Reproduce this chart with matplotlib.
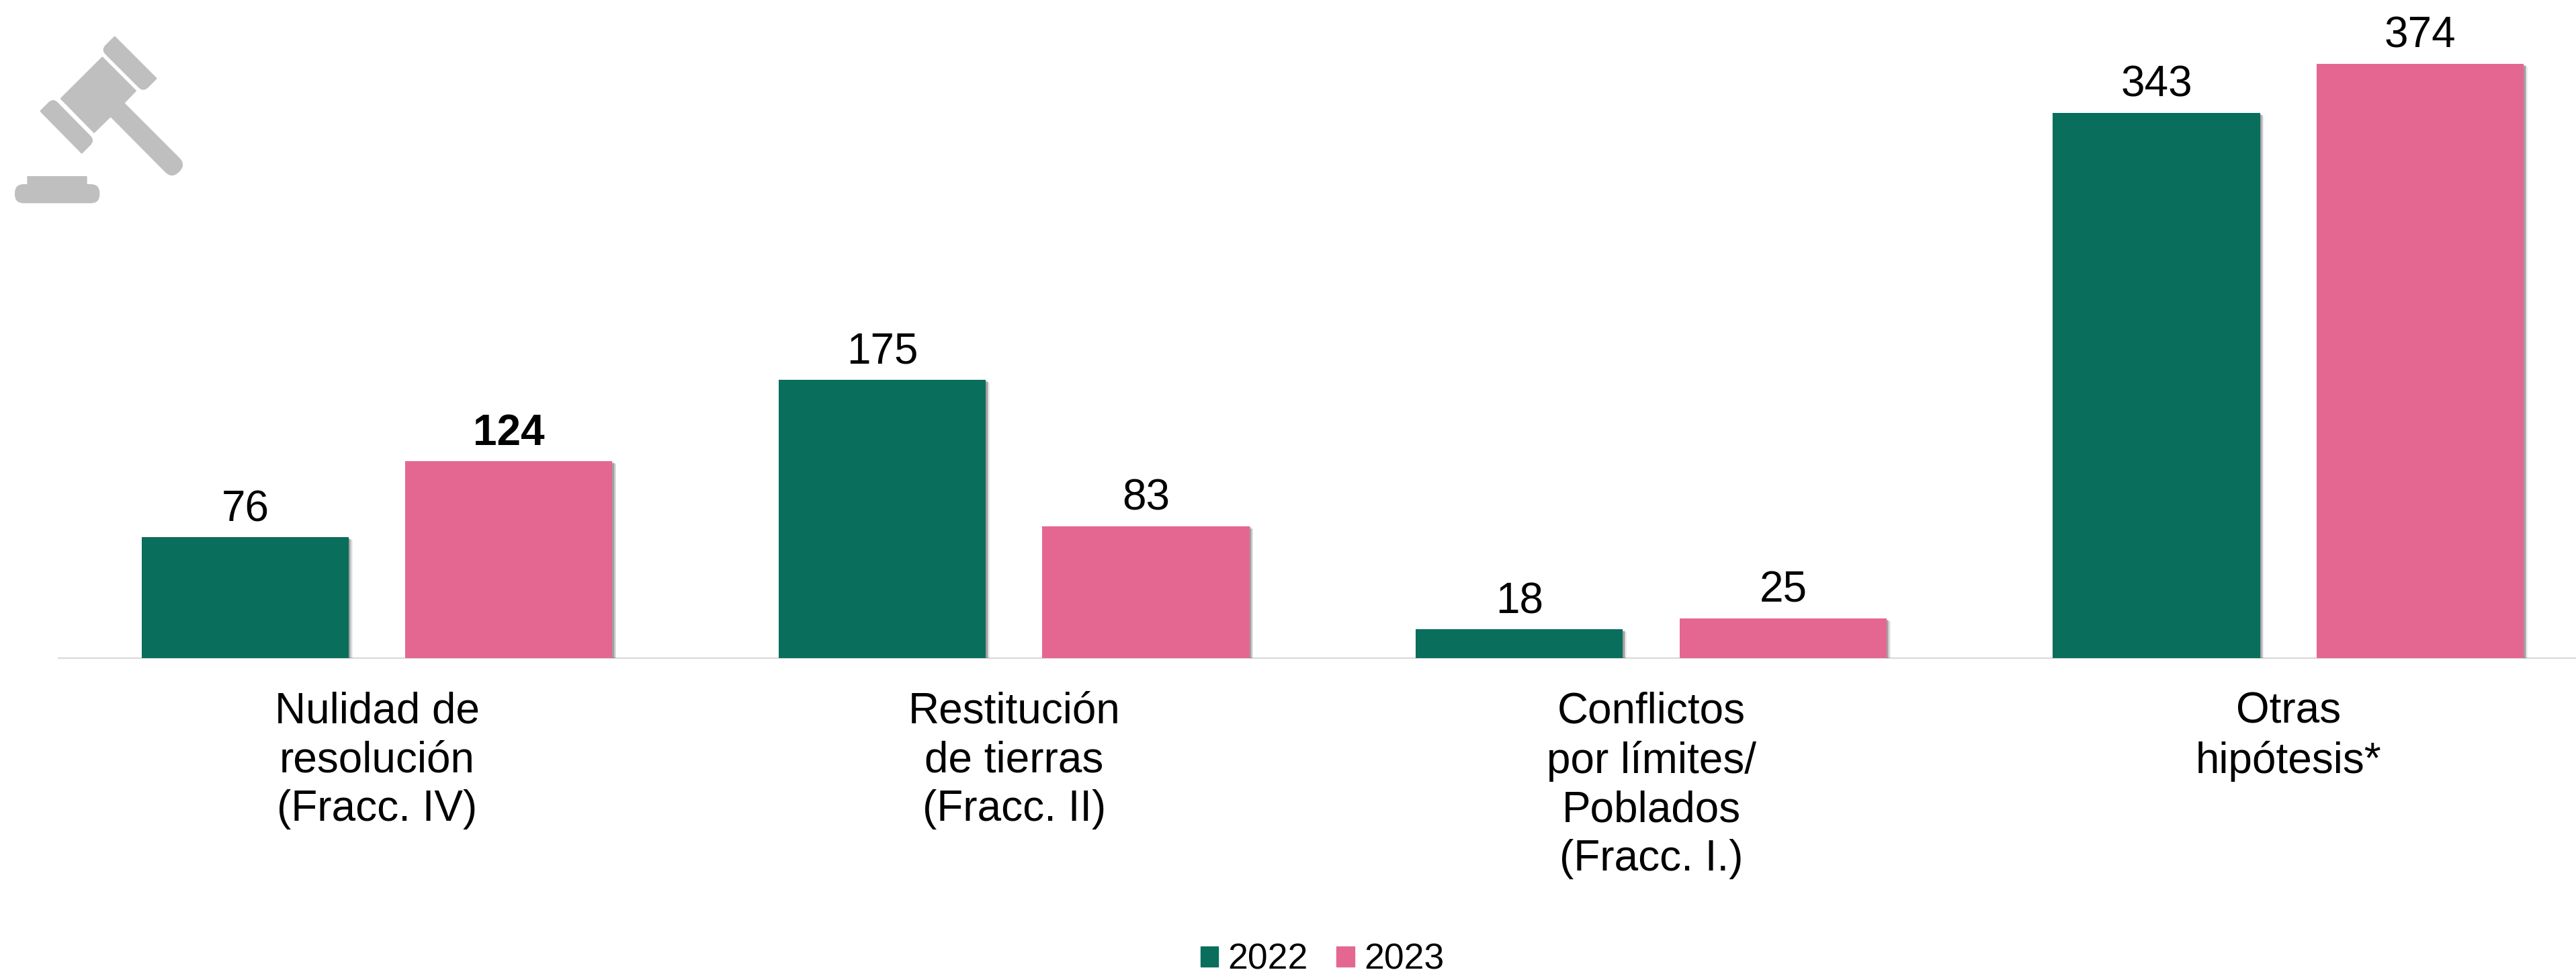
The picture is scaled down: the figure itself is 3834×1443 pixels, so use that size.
import numpy as np
import matplotlib
matplotlib.use("Agg")
import matplotlib.pyplot as plt
import matplotlib.patheffects as pe
from matplotlib.patches import PathPatch, Patch
from matplotlib.path import Path

# ====================
# Data
# ====================
categories = [
    "Nulidad de\nresolución\n(Fracc. IV)",
    "Restitución\nde tierras\n(Fracc. II)",
    "Conflictos\npor límites/\nPoblados\n(Fracc. I.)",
    "Otras\nhipótesis*",
]
values_2022 = [76, 175, 18, 343]
values_2023 = [124, 83, 25, 374]
bold_2023 = [True, False, False, False]
years = ["2022", "2023"]

# ====================
# Style
# ====================
W, H = 3834, 1443
GREEN = "#096E5C"
PINK = "#E46792"
GRAY = "#BFBFBF"
plt.rcParams["font.family"] = ["Liberation Sans", "DejaVu Sans"]


def rounded_path(corners):
    # corners: (x, y, r) in icon pixels, sharp corner when r is small
    verts, codes = [], []
    n = len(corners)
    for i in range(n):
        p = np.array(corners[i][:2], float)
        r = corners[i][2]
        a = np.array(corners[i - 1][:2], float)
        b = np.array(corners[(i + 1) % n][:2], float)
        p0 = p + (a - p) / np.linalg.norm(a - p) * r
        p1 = p + (b - p) / np.linalg.norm(b - p) * r
        verts.append(p0)
        codes.append(Path.MOVETO if i == 0 else Path.LINETO)
        verts += [p, p1]
        codes += [Path.CURVE3, Path.CURVE3]
    verts.append(verts[0])
    codes.append(Path.CLOSEPOLY)
    return Path(verts, codes)


def draw_gavel(fig):
    # overlay in image pixels, coordinates taken from a 3x crop
    ov = fig.add_axes([0, 0, 1, 1], facecolor="none")
    ov.set_xlim(0, W)
    ov.set_ylim(H, 0)
    ov.axis("off")
    shapes = [
        # upper cheek
        [(512, 160, 3), (702, 350, 3), (640, 412, 30), (450, 222, 30)],
        # head and handle
        [(457, 252, 3), (610, 405, 3), (557, 460, 3), (832, 735, 44), (768, 799, 44),
         (494, 523, 3), (420, 595, 3), (268, 440, 3)],
        # lower cheek
        [(177, 496, 3), (237, 436, 30), (425, 627, 30), (365, 687, 3)],
        # block top
        [(121, 786, 3), (389, 786, 3), (389, 850, 1), (121, 850, 1)],
        # block base
        [(66, 822, 40), (445, 822, 40), (445, 907, 40), (66, 907, 40)],
    ]
    for corners in shapes:
        pts = [(x / 3, y / 3, r / 3) for x, y, r in corners]
        ov.add_patch(PathPatch(rounded_path(pts), fc=GRAY, ec="none"))


def main():
    fig = plt.figure(figsize=(W / 100, H / 100), dpi=100, facecolor="white")

    # axes runs from the left end of the line to the image edge
    left, base = 87, 979
    ax = fig.add_axes([left / W, (H - base) / H, (W - left) / W, base / H])
    cat_w = 948.2
    px_per_unit = 2.364
    ax.set_xlim(-0.5, -0.5 + (W - left) / cat_w)
    ax.set_ylim(0, base / px_per_unit)

    x = np.arange(len(categories))
    offset = 0.207
    width = 0.325
    # soft edge: three shadow layers first, the bar itself on top
    shadow = [
        pe.SimplePatchShadow(offset=(4.2, -2.8), shadow_rgbFace="#000000", alpha=0.08),
        pe.SimplePatchShadow(offset=(3.0, -2.0), shadow_rgbFace="#000000", alpha=0.14),
        pe.SimplePatchShadow(offset=(1.8, -1.2), shadow_rgbFace="#000000", alpha=0.2),
        pe.Normal(),
    ]
    b1 = ax.bar(x - offset, values_2022, width, color=GREEN, zorder=3)
    b2 = ax.bar(x + offset, values_2023, width, color=PINK, zorder=3)
    for bar in list(b1) + list(b2):
        bar.set_path_effects(shadow)

    for xi, v in zip(x - offset, values_2022):
        ax.annotate(str(v), (xi, v), xytext=(0, 17.5), textcoords="offset points",
                    ha="center", va="baseline", fontsize=46, color="black")
    for xi, v, is_bold in zip(x + offset, values_2023, bold_2023):
        ax.annotate(str(v), (xi, v), xytext=(0, 17.5), textcoords="offset points",
                    ha="center", va="baseline", fontsize=46, color="black",
                    fontweight="bold" if is_bold else "normal")

    ax.set_xticks(x)
    ax.set_xticklabels(categories, fontsize=46, linespacing=1.27, color="black")
    ax.tick_params(axis="x", length=0, pad=36)
    ax.set_yticks([])
    for side in ["top", "left", "right"]:
        ax.spines[side].set_visible(False)
    ax.spines["bottom"].set_color("#D9D9D9")
    ax.spines["bottom"].set_linewidth(1.6)

    # proxy handles so the legend squares stay flat, without the bar shadow
    handles = [Patch(color=GREEN), Patch(color=PINK)]
    fig.legend(handles=handles, labels=years, loc="center",
               bbox_to_anchor=(1968 / W, (H - 1428) / H), ncol=2, frameon=False,
               fontsize=38.5, handlelength=0.5, handleheight=0.5,
               handletextpad=0.26, columnspacing=0.8, borderpad=0, borderaxespad=0)

    draw_gavel(fig)
    fig.savefig("out.png", dpi=100, facecolor="white")


if __name__ == "__main__":
    main()
